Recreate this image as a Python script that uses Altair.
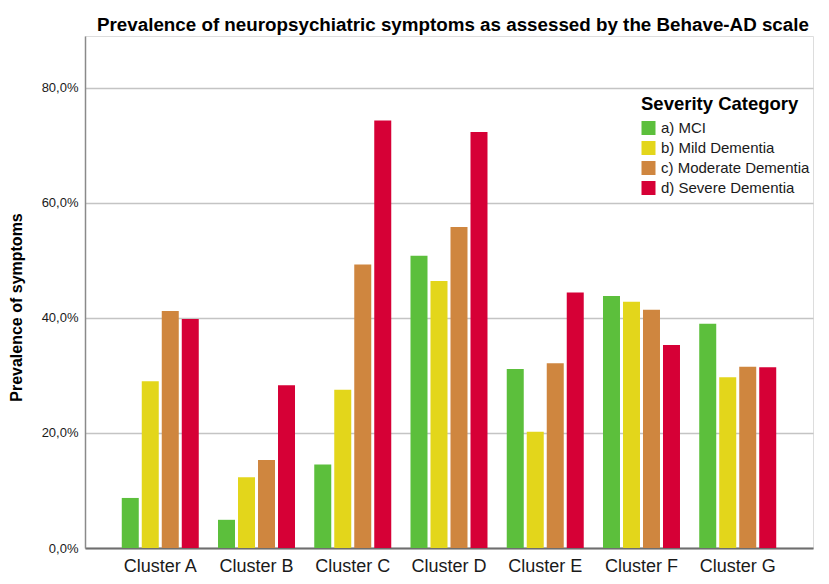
import altair as alt
import pandas as pd

clusters = ["Cluster A", "Cluster B", "Cluster C", "Cluster D", "Cluster E", "Cluster F", "Cluster G"]
categories = ["a) MCI", "b) Mild Dementia", "c) Moderate Dementia", "d) Severe Dementia"]
mci = [8.7, 4.9, 14.5, 50.8, 31.1, 43.8, 39.0]
mild = [29.0, 12.3, 27.5, 46.4, 20.2, 42.8, 29.7]
moderate = [41.2, 15.3, 49.3, 55.8, 32.1, 41.4, 31.5]
severe = [39.8, 28.3, 74.3, 72.3, 44.4, 35.3, 31.4]
colors = ["#5CBF3C", "#E3D61B", "#CF863F", "#D60036"]
y_ticks = [0, 20, 40, 60, 80]

rows = []
for cat, series in zip(categories, [mci, mild, moderate, severe]):
    for cl, v in zip(clusters, series):
        rows.append({"Cluster": cl, "Severity Category": cat, "value": v})
df = pd.DataFrame(rows)

FONT = "Liberation Sans"

chart = alt.Chart(df).mark_bar().encode(
    x=alt.X("Cluster:N", sort=clusters,
            scale=alt.Scale(paddingInner=0.2, paddingOuter=0.382),
            axis=alt.Axis(title=None, labelAngle=0, labelFontSize=18, labelFont=FONT,
                          labelColor="#1a1a1a", ticks=False, domainColor="#6e6e6e",
                          domainWidth=2, labelPadding=9, grid=False)),
    xOffset=alt.XOffset("Severity Category:N", sort=categories,
                        scale=alt.Scale(paddingInner=0.15, paddingOuter=0)),
    y=alt.Y("value:Q", scale=alt.Scale(domain=[0, 89], nice=False, zero=True),
            axis=alt.Axis(title="Prevalence of symptoms", values=y_ticks,
                          labelExpr="replace(format(datum.value, '.1f'), '.', ',') + '%'",
                          labelFontSize=13, labelFont=FONT, labelColor="#1a1a1a",
                          labelPadding=7, ticks=False,
                          domainColor="#8a8a8a", domainWidth=1.5,
                          gridColor="#c4c4c4", gridWidth=1.5,
                          titleFontSize=16, titleFont=FONT, titleFontWeight="bold",
                          titleColor="#000000", titleAngle=-90, titleX=-64, titleY=271,
                          titleAlign="center", titleBaseline="alphabetic")),
    color=alt.Color("Severity Category:N", sort=categories,
                    scale=alt.Scale(domain=categories, range=colors),
                    legend=alt.Legend(orient="none", legendX=556, legendY=59,
                                      padding=0, title="Severity Category",
                                      titleFontSize=18.5, titleFont=FONT,
                                      titleFontWeight="bold", titleColor="#000000",
                                      titlePadding=7, labelFontSize=15, labelFont=FONT,
                                      labelColor="#1a1a1a", symbolType="square",
                                      symbolSize=196, symbolStrokeWidth=0,
                                      symbolOpacity=1, rowPadding=4, labelOffset=5)),
).properties(
    width=728,
    height=512,
    title=alt.TitleParams(
        "Prevalence of neuropsychiatric symptoms as assessed by the Behave-AD scale",
        anchor="start", frame="group", dx=12, dy=18, fontSize=18.8, font=FONT,
        fontWeight="bold", color="#000000", offset=4, baseline="alphabetic"),
    autosize=alt.AutoSizeParams(type="none"),
    padding={"left": 77, "top": 28, "right": 8, "bottom": 28},
).configure_view(stroke=None).configure(background="white")

chart.save("out.html", embed_options={"renderer": "svg", "actions": False})
